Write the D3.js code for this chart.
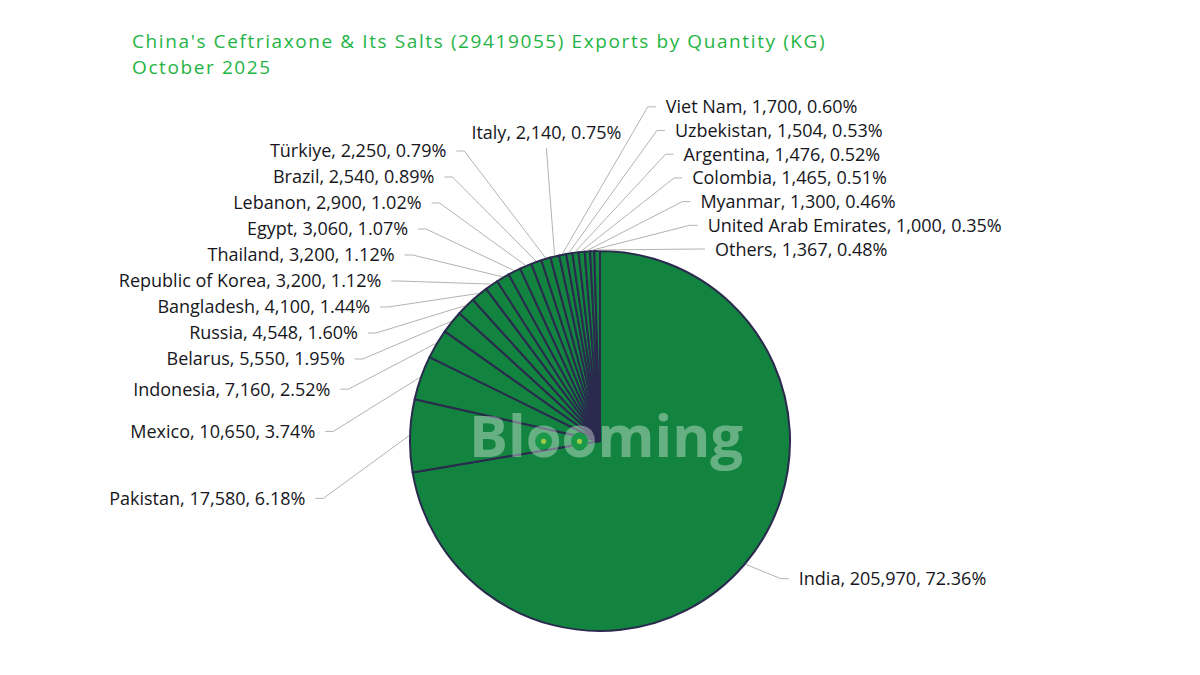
<!DOCTYPE html>
<html><head><meta charset="utf-8">
<script src="https://cdn.jsdelivr.net/npm/d3@7"></script>
<style>html,body{margin:0;padding:0;background:#fff}svg{display:block}</style>
</head><body>
<svg id="chart" width="1200" height="675"></svg>
<script>
// ---- data ----
const countries = ["India","Pakistan","Mexico","Indonesia","Belarus","Russia","Bangladesh","Republic of Korea","Thailand","Egypt","Lebanon","Brazil","Türkiye","Italy","Viet Nam","Uzbekistan","Argentina","Colombia","Myanmar","United Arab Emirates","Others"];
const quantities = [205970,17580,10650,7160,5550,4548,4100,3200,3200,3060,2900,2540,2250,2140,1700,1504,1476,1465,1300,1000,1367];
const titleLines = ["China's Ceftriaxone & Its Salts (29419055) Exports by Quantity (KG)", "October 2025"];
const watermarkText = "Blooming";

// ---- layout ----
const W = 1200, H = 675, cx = 600, cy = 441, R = 190;
const fs = 18;
const svg = d3.select("#chart").attr("viewBox", `0 0 ${W} ${H}`);
svg.append("rect").attr("width", W).attr("height", H).attr("fill", "#fff");

const total = d3.sum(quantities);
const data = countries.map((c, i) => ({ name: c, value: quantities[i] }));
const arcs = d3.pie().value(d => d.value).sort(null)(data);
const arcGen = d3.arc().innerRadius(0).outerRadius(R);
const fmtN = d3.format(",");
const fmtP = d3.format(".2%");

// title
const title = svg.append("g").attr("font-family", "'Open Sans', sans-serif")
  .attr("font-size", 19).attr("letter-spacing", 1.6).attr("fill", "#1fb445");
titleLines.forEach((t, i) => title.append("text").attr("x", 132).attr("y", 48 + i * 26).text(t));

// pie
const pg = svg.append("g").attr("transform", `translate(${cx},${cy})`);
pg.selectAll("path").data(arcs).join("path")
  .attr("d", arcGen)
  .attr("fill", "#12843f")
  .attr("stroke", "#2a2a4e")
  .attr("stroke-width", 2)
  .attr("stroke-linejoin", "round");

// watermark
const wm = svg.append("text")
  .attr("x", cx + 6).attr("y", cy + 16)
  .attr("text-anchor", "middle")
  .attr("font-family", "'Open Sans', sans-serif").attr("font-weight", 700)
  .attr("font-size", 58).attr("fill", "#ffffff").attr("fill-opacity", 0.36)
  .text(watermarkText);
const wmNode = wm.node();
[2, 3].forEach(i => {
  const e = wmNode.getExtentOfChar(i);
  const ox = e.x + e.width / 2, oy = cy + 16 - 0.27 * 58;
  svg.append("circle").attr("cx", ox).attr("cy", oy).attr("r", 8.5).attr("fill", "#1a9a49");
  svg.append("circle").attr("cx", ox).attr("cy", oy).attr("r", 2.6).attr("fill", "#9fcb45");
});

// label layout
const items = arcs.map(a => {
  const mid = (a.startAngle + a.endAngle) / 2;
  const deg = mid * 180 / Math.PI;
  const ax = cx + (R + 1) * Math.sin(mid), ay = cy - (R + 1) * Math.cos(mid);
  let side;
  if (deg < 180) side = "free";
  else if (deg < 345) side = "left";
  else if (deg < 348) side = "top";
  else side = "right";
  return { a, mid, deg, ax, ay, side,
    text: `${a.data.name}, ${fmtN(a.data.value)}, ${fmtP(a.data.value / total)}` };
});

const leftTop = cy - 290, gapL = 26, arcSpread = 215, gapR = 23.7;
const left = items.filter(d => d.side === "left").sort((p, q) => q.mid - p.mid);
left.forEach((d, i) => {
  d.ly = i === 0 ? leftTop : left[i - 1].ly + Math.max(gapL, arcSpread * (left[i - 1].mid - d.mid));
  d.ex = d.ax - (92 - 0.1 * Math.abs(d.ly - d.ay));
  d.dir = -1;
});
const right = items.filter(d => d.side === "right").sort((p, q) => q.mid - p.mid);
right.forEach((d, i) => {
  d.ly = i === 0 ? d.ay - 1 : right[i - 1].ly - gapR;
  d.ex = d.ax + (100 - 0.1 * Math.abs(d.ly - d.ay));
  d.dir = 1;
});
items.filter(d => d.side === "free").forEach(d => {
  d.ly = cy - (R + 20) * Math.cos(d.mid) + 2;
  d.ex = d.ax + 35 * Math.sign(Math.sin(d.mid));
  d.dir = Math.sign(Math.sin(d.mid));
});

const lg = svg.append("g");
const tg = svg.append("g").attr("font-family", "'Open Sans', sans-serif").attr("font-size", fs)
  .attr("font-weight", 500).attr("fill", "#16161c");
items.forEach(d => {
  if (d.side === "top") {
    const ex = d.ax + (d.ax - cx) * 0.18, ey = leftTop - 3;
    lg.append("path").attr("d", d3.line()([[d.ax, d.ay], [ex, ey]]));
    tg.append("text").attr("x", ex).attr("y", ey - 15).attr("dy", "0.36em").attr("text-anchor", "middle").text(d.text);
    return;
  }
  const sx = d.ex + d.dir * 8;
  lg.append("path").attr("d", d3.line()([[d.ax, d.ay], [d.ex, d.ly], [sx, d.ly]]));
  tg.append("text").attr("x", sx + d.dir * 10).attr("y", d.ly).attr("dy", "0.36em")
    .attr("text-anchor", d.dir < 0 ? "end" : "start").text(d.text);
});
lg.selectAll("path").attr("fill", "none").attr("stroke", "#b3b3b3").attr("stroke-width", 1);
</script>
</body></html>
